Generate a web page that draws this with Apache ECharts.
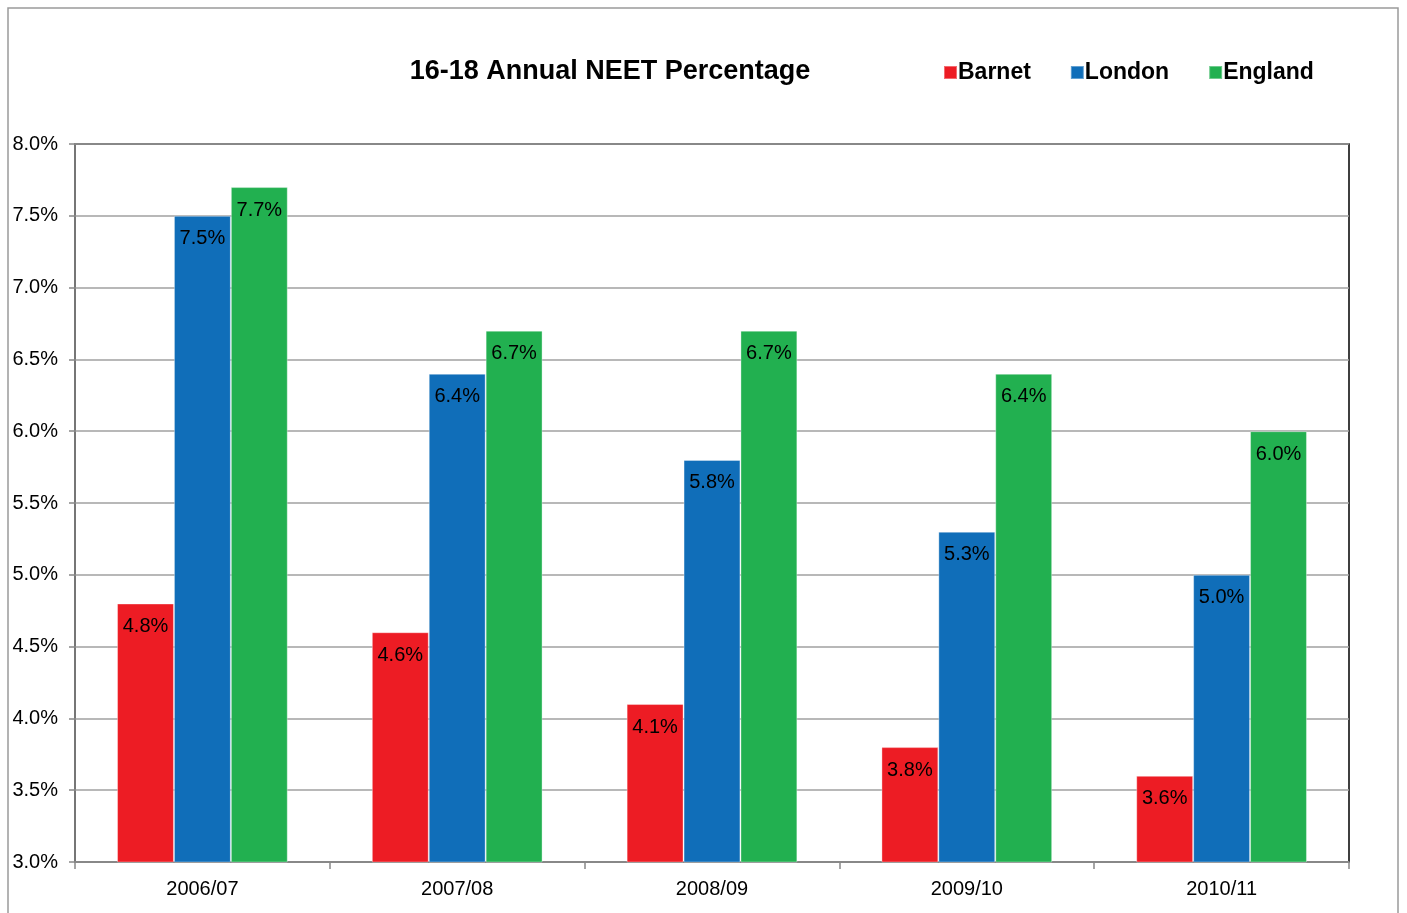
<!DOCTYPE html>
<html>
<head>
<meta charset="utf-8">
<script src="https://cdn.jsdelivr.net/npm/echarts@6/dist/echarts.min.js"></script>
<style>
  html, body { margin: 0; padding: 0; background: #fff; }
  #chart { width: 1407px; height: 913px; }
</style>
</head>
<body>
<div id="chart"></div>
<script>
// Years shown on the x axis
const years = ['2006/07', '2007/08', '2008/09', '2009/10', '2010/11'];

// NEET percentages
const barnet = [4.8, 4.6, 4.1, 3.8, 3.6];
const london = [7.5, 6.4, 5.8, 5.3, 5.0];
const england = [7.7, 6.7, 6.7, 6.4, 6.0];

const FONT = '"Liberation Sans", Arial, sans-serif';

const label = {
  show: true,
  position: 'insideTop',
  distance: 13,
  color: '#000',
  fontFamily: FONT,
  fontSize: 20,
  formatter: (p) => p.value.toFixed(1) + '%'
};

const makeBar = (name, data, color) => ({
  name,
  type: 'bar',
  data,
  barGap: 0,
  barCategoryGap: '33%',
  itemStyle: { color, borderColor: 'rgba(255,255,255,0.35)', borderWidth: 1 },
  label
});

const chart = echarts.init(document.getElementById('chart'));
chart.setOption({
  animation: false,
  title: {
    text: '16-18 Annual NEET Percentage',
    left: 605,
    textAlign: 'center',
    top: 53,
    textStyle: { fontFamily: FONT, fontSize: 27, fontWeight: 'bold', color: '#000' }
  },
  legend: {
    left: 938,
    top: 56,
    icon: 'rect',
    itemWidth: 13,
    itemHeight: 13,
    itemGap: 39,
    textStyle: { fontFamily: FONT, fontSize: 23, fontWeight: 'bold', color: '#000', padding: [0, 0, 0, -4] },
    data: ['Barnet', 'London', 'England']
  },
  graphic: [{
    type: 'rect',
    shape: { x: 8, y: 8, width: 1390, height: 930 },
    style: { fill: 'none', stroke: '#9a9a9a', lineWidth: 1.5 },
    silent: true
  }],
  grid: {
    left: 75, right: 58, top: 144, bottom: 51,
    show: true,
    borderColor: '#000',
    borderWidth: 1.5
  },
  xAxis: {
    type: 'category',
    data: years,
    axisLine: { lineStyle: { color: '#888', width: 1.5 } },
    axisTick: { show: true, length: 7, lineStyle: { color: '#888', width: 1.5 } },
    axisLabel: { fontFamily: FONT, fontSize: 20, color: '#000', margin: 17 }
  },
  yAxis: {
    type: 'value',
    min: 3, max: 8, interval: 0.5,
    axisLine: { show: true, lineStyle: { color: '#888', width: 1.5 } },
    axisTick: { show: true, length: 6, lineStyle: { color: '#888', width: 1.5 } },
    axisLabel: {
      fontFamily: FONT, fontSize: 20, color: '#000', margin: 17,
      padding: [3, 0, 0, 0],
      formatter: (v) => v.toFixed(1) + '%'
    },
    splitLine: { lineStyle: { color: '#a0a0a0', width: 1.5 } }
  },
  series: [
    makeBar('Barnet', barnet, '#ed1c24'),
    makeBar('London', london, '#106eb9'),
    makeBar('England', england, '#22b050')
  ]
});
</script>
</body>
</html>
